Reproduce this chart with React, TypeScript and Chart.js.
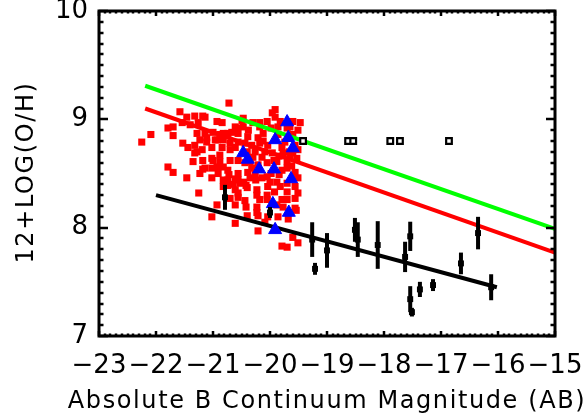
import React, { useEffect, useRef } from "react";
import { Chart, registerables } from "chart.js";

Chart.register(...registerables);

const X_TICKS = [-23, -22, -21, -20, -19, -18, -17, -16, -15];
const Y_TICKS = [7, 8, 9, 10];
const X_TITLE = "Absolute B Continuum Magnitude (AB)";
const Y_TITLE = "12+LOG(O/H)";

const redSquares: [number, number][] = [
  [-20.72, 9.15], [-21.58, 9.07], [-21.46, 9.02], [-21.32, 9.03], [-21.18, 9.03], [-21.54, 8.97], [-21.40, 8.95],
  [-21.26, 8.97], [-21.79, 8.92], [-21.70, 8.93], [-22.09, 8.86], [-22.25, 8.79], [-21.70, 8.85], [-21.28, 8.87],
  [-21.23, 8.81], [-21.11, 8.83], [-21.32, 8.76], [-21.28, 8.70], [-21.18, 8.62], [-21.00, 8.62], [-20.93, 8.56],
  [-20.88, 8.61], [-21.79, 8.56], [-21.70, 8.51], [-21.46, 8.46], [-21.14, 8.55], [-21.23, 8.50], [-21.02, 8.46],
  [-20.82, 8.44], [-20.82, 8.38], [-20.74, 8.44], [-20.56, 8.44], [-20.46, 8.42], [-20.61, 8.35], [-20.40, 8.37],
  [-20.56, 8.28], [-20.70, 8.27], [-20.93, 8.21], [-20.61, 8.21], [-20.42, 8.19], [-20.23, 8.19], [-20.23, 8.30],
  [-20.05, 8.30], [-20.18, 8.26], [-19.88, 8.21], [-19.70, 8.26], [-19.77, 8.19], [-19.56, 8.27], [-19.51, 8.32],
  [-19.56, 8.18], [-20.40, 8.11], [-20.21, 8.11], [-19.86, 8.10], [-19.68, 8.08], [-20.61, 8.04], [-20.21, 7.97],
  [-21.02, 8.10], [-21.25, 8.32], [-19.60, 7.91], [-19.51, 7.86], [-19.79, 7.83], [-19.70, 7.82], [-19.96, 9.06],
  [-19.91, 9.09], [-20.05, 8.98], [-20.18, 8.97], [-20.30, 8.97], [-20.47, 9.01], [-20.58, 8.92], [-20.74, 8.87],
  [-20.88, 8.86], [-20.93, 8.81], [-21.14, 9.02], [-20.93, 8.98], [-20.84, 8.97], [-20.49, 8.99], [-20.47, 8.93],
  [-20.61, 8.93], [-20.18, 8.93], [-19.91, 9.02], [-19.82, 8.98], [-20.12, 8.87], [-20.21, 8.83], [-20.39, 8.84],
  [-20.56, 8.87], [-20.67, 8.88], [-20.82, 8.87], [-21.00, 8.88], [-21.14, 8.87], [-21.11, 8.79], [-20.96, 8.81],
  [-20.82, 8.81], [-20.70, 8.78], [-20.56, 8.79], [-20.44, 8.78], [-20.32, 8.76], [-20.18, 8.78], [-20.04, 8.76],
  [-21.19, 8.72], [-21.02, 8.74], [-20.84, 8.74], [-20.70, 8.72], [-20.61, 8.74], [-20.40, 8.70], [-20.26, 8.70],
  [-20.09, 8.70], [-20.14, 8.65], [-20.30, 8.65], [-21.32, 8.69], [-21.44, 8.74], [-21.53, 8.78], [-21.35, 8.61],
  [-20.88, 8.67], [-20.70, 8.62], [-20.56, 8.62], [-20.44, 8.60], [-20.05, 8.60], [-19.88, 8.61], [-19.79, 8.53],
  [-19.70, 8.55], [-19.56, 8.51], [-19.60, 8.69], [-19.56, 8.76], [-19.65, 8.65], [-19.77, 8.69], [-19.79, 8.74],
  [-19.96, 8.69], [-19.60, 8.86], [-19.51, 8.90], [-19.65, 8.93], [-19.60, 8.98], [-19.47, 8.97], [-19.86, 8.93],
  [-19.86, 8.86], [-19.70, 8.92], [-20.35, 8.61], [-20.21, 8.58], [-21.02, 8.64], [-21.18, 8.54], [-21.02, 8.55],
  [-20.82, 8.56], [-20.74, 8.53], [-20.39, 8.51], [-20.35, 8.46], [-20.26, 8.49], [-20.05, 8.47], [-19.88, 8.42],
  [-19.70, 8.41], [-19.60, 8.46], [-20.91, 8.50], [-20.61, 8.45], [-20.53, 8.41], [-20.74, 8.39], [-20.04, 8.38],
  [-19.82, 8.38], [-19.56, 8.38], [-20.72, 8.49], [-20.56, 8.50], [-20.25, 8.44], [-20.14, 8.46], [-20.65, 8.40],
  [-20.56, 8.32], [-20.42, 8.39], [-20.23, 8.35], [-20.05, 8.26], [-19.70, 8.33], [-19.79, 8.26], [-20.23, 8.14],
  [-20.04, 8.10], [-20.09, 8.05], [-19.54, 8.16], [-19.51, 8.72], [-19.53, 8.64], [-19.51, 8.46], [-19.70, 8.61],
  [-19.98, 8.92], [-19.93, 8.62], [-19.98, 8.50], [-19.84, 8.49], [-19.74, 8.79], [-19.92, 8.33], [-20.32, 8.55],
  [-20.12, 8.80], [-20.38, 8.90], [-19.66, 8.70], [-19.84, 8.66], [-20.00, 8.42], [-19.62, 8.57], [-20.44, 8.25],
];

const blueTriangles: [number, number][] = [
  [-19.70, 8.975], [-19.91, 8.81], [-19.68, 8.83], [-19.60, 8.735], [-20.47, 8.69], [-20.39, 8.63],
  [-20.19, 8.54], [-19.93, 8.54], [-19.63, 8.45], [-19.95, 8.22], [-19.67, 8.14], [-19.91, 7.98],
];

const blackX = [-20.79, -20.0, -19.26, -19.21, -19.0, -18.51, -18.46, -18.11, -17.54, -17.63, -17.54, -17.51, -17.37, -17.14, -16.65, -16.35, -16.12];
const blackY = [8.28, 8.14, 7.89, 7.62, 7.79, 7.98, 7.89, 7.84, 7.92, 7.73, 7.34, 7.22, 7.43, 7.47, 7.67, 7.95, 7.45];
const blackErr = [0.115, 0.05, 0.16, 0.055, 0.16, 0.11, 0.16, 0.22, 0.135, 0.14, 0.12, 0.04, 0.07, 0.055, 0.1, 0.15, 0.12];

const openX = [-19.42, -18.63, -18.54, -17.89, -17.72, -16.86];
const openY = [8.8, 8.8, 8.8, 8.8, 8.8, 8.8];

const greenLine: [number, number][] = [[-22.19, 9.31], [-15.0, 7.99]];
const redLine: [number, number][] = [[-22.19, 9.10], [-15.0, 7.77]];
const blackLine: [number, number][] = [[-22.0, 8.30], [-16.02, 7.45]];

const FONT = '"DejaVu Sans", sans-serif';

const fmt = (v: number) => (v < 0 ? "\u2212" + Math.abs(v) : String(v));

const framePlugin = {
  id: "idlFrame",
  afterDatasetsDraw(chart: any) {
    const { ctx, scales } = chart;
    const x = scales.x;
    const y = scales.y;
    ctx.save();
    ctx.strokeStyle = "#000";
    ctx.lineWidth = 4;
    blackX.forEach((v, i) => {
      const px = x.getPixelForValue(v);
      ctx.beginPath();
      ctx.moveTo(px, y.getPixelForValue(blackY[i] - blackErr[i]));
      ctx.lineTo(px, y.getPixelForValue(blackY[i] + blackErr[i]));
      ctx.stroke();
    });
    ctx.restore();
  },
  afterDraw(chart: any) {
    const { ctx, chartArea: a, scales } = chart;
    const x = scales.x;
    const y = scales.y;
    ctx.save();
    ctx.strokeStyle = "#000";
    ctx.lineWidth = 2.5;
    ctx.beginPath();
    for (let k = -230; k <= -150; k++) {
      const px = Math.round(x.getPixelForValue(k / 10));
      const len = k % 10 === 0 ? 5 : 2.5;
      ctx.moveTo(px, a.bottom);
      ctx.lineTo(px, a.bottom - len);
      ctx.moveTo(px, a.top);
      ctx.lineTo(px, a.top + len);
    }
    for (let k = 70; k <= 100; k++) {
      const py = Math.round(y.getPixelForValue(k / 10));
      const len = k % 10 === 0 ? 9 : 4.5;
      ctx.moveTo(a.left, py);
      ctx.lineTo(a.left + len, py);
      ctx.moveTo(a.right, py);
      ctx.lineTo(a.right - len, py);
    }
    ctx.stroke();
    ctx.lineWidth = 3;
    ctx.strokeRect(a.left, a.top, a.right - a.left, a.bottom - a.top);

    ctx.fillStyle = "#000";
    ctx.font = "24px " + FONT;
    (ctx as any).letterSpacing = "1.6px";
    ctx.textAlign = "center";
    ctx.textBaseline = "alphabetic";
    ctx.fillText(X_TITLE, (a.left + a.right) / 2, 408);
    ctx.translate(33, (a.top + a.bottom) / 2 - 1);
    ctx.rotate(-Math.PI / 2);
    ctx.fillText(Y_TITLE, 0, 0);
    ctx.restore();
  },
};

export default function App() {
  const ref = useRef<HTMLCanvasElement | null>(null);
  useEffect(() => {
    if (!ref.current) return;
    const chart = new Chart(ref.current, {
      type: "scatter",
      data: {
        datasets: [
          {
            label: "black",
            data: blackX.map((v, i) => ({ x: v, y: blackY[i] })),
            pointStyle: "rect",
            pointRadius: 4.2,
            pointBorderWidth: 0,
            backgroundColor: "#000",
            borderColor: "#000",
            order: 0,
          },
          {
            label: "open",
            data: openX.map((v, i) => ({ x: v, y: openY[i] })),
            pointStyle: "rect",
            pointRadius: 4,
            pointBorderWidth: 2.2,
            backgroundColor: "#fff",
            borderColor: "#000",
            order: 1,
          },
          {
            label: "blue",
            data: blueTriangles.map(([a, b]) => ({ x: a, y: b })),
            pointStyle: "triangle",
            pointRadius: 7.5,
            pointBorderWidth: 1,
            backgroundColor: "#0000ff",
            borderColor: "#0000ff",
            order: 1,
          },
          {
            label: "green fit",
            data: greenLine.map(([a, b]) => ({ x: a, y: b })),
            showLine: true,
            pointRadius: 0,
            borderColor: "#00ff00",
            borderWidth: 4,
            order: 2,
          },
          {
            label: "red fit",
            data: redLine.map(([a, b]) => ({ x: a, y: b })),
            showLine: true,
            pointRadius: 0,
            borderColor: "#ff0000",
            borderWidth: 4,
            order: 2,
          },
          {
            label: "black fit",
            data: blackLine.map(([a, b]) => ({ x: a, y: b })),
            showLine: true,
            pointRadius: 0,
            borderColor: "#000",
            borderWidth: 4,
            order: 2,
          },
          {
            label: "red",
            data: redSquares.map(([a, b]) => ({ x: a, y: b })),
            pointStyle: "rect",
            pointRadius: 5,
            pointBorderWidth: 0,
            backgroundColor: "#ff0000",
            borderColor: "#ff0000",
            order: 3,
          },
        ],
      },
      options: {
        animation: false,
        responsive: false,
        devicePixelRatio: 1,
        layout: { padding: { top: 11, right: 32, left: 0, bottom: 0 } },
        plugins: { legend: { display: false }, tooltip: { enabled: false } },
        scales: {
          x: {
            type: "linear",
            min: -23,
            max: -15,
            afterBuildTicks: (s: any) => {
              s.ticks = X_TICKS.map((v) => ({ value: v }));
            },
            afterFit: (s: any) => {
              s.height = 79;
              s.paddingLeft = 0;
              s.paddingRight = 0;
            },
            grid: { display: false, drawTicks: false },
            border: { display: false },
            ticks: {
              autoSkip: false,
              maxRotation: 0,
              padding: 15,
              color: "#000",
              font: { family: FONT, size: 26 },
              callback: (v: any) => fmt(Number(v)),
            },
          },
          y: {
            type: "linear",
            min: 7,
            max: 10,
            afterBuildTicks: (s: any) => {
              s.ticks = Y_TICKS.map((v) => ({ value: v }));
            },
            afterFit: (s: any) => {
              s.width = 99;
              s.paddingTop = 0;
              s.paddingBottom = 0;
            },
            grid: { display: false, drawTicks: false },
            border: { display: false },
            ticks: {
              padding: 11,
              color: "#000",
              font: { family: FONT, size: 26 },
              callback: (v: any) => fmt(Number(v)),
            },
          },
        },
      },
      plugins: [framePlugin],
    } as any);
    return () => chart.destroy();
  }, []);
  return (
    <div style={{ position: "absolute", left: 0, top: 0, width: 587, height: 415, background: "#fff" }}>
      <canvas ref={ref} width={587} height={415} style={{ width: 587, height: 415, display: "block" }} />
    </div>
  );
}
